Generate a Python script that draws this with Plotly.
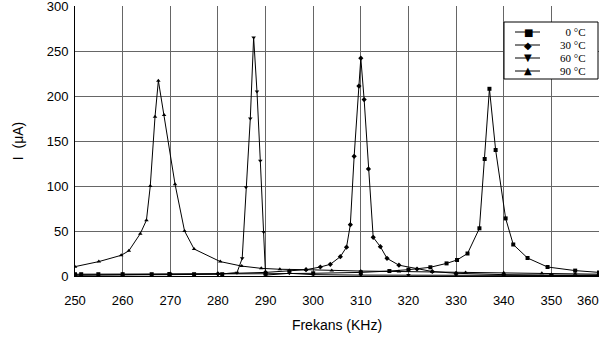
import plotly.graph_objects as go

# ---- data ----
f_0 = [250, 251.3, 254.9, 260, 266.1, 269.8, 275, 280.9, 290, 300, 310, 316, 320, 324.6, 328, 330.2,
       332.4, 334.9, 336.0, 337.0, 338.3, 340.4, 342, 345, 349.2, 355, 360]
i_0 = [2, 2, 2, 2, 2, 2.2, 2, 2, 2.5, 3, 4, 5.5, 7, 9.7, 14, 17.8,
       25, 53, 130, 208, 140, 64, 35, 20, 10, 6, 4]

f_30 = [250, 260, 270, 280, 290, 295, 298.5, 301.5, 303.6, 305.7, 307.0, 307.8, 308.6, 309.6, 310.0,
        310.7, 311.6, 312.6, 314.1, 315.5, 318, 321.8, 325, 330, 340, 350, 360]
i_30 = [1, 1.5, 2, 2.5, 4, 5.5, 7, 10, 13, 21.5, 32, 57, 133, 211, 242,
        196, 119, 43, 32.6, 19.6, 12, 7.8, 5, 3, 1.5, 1, 1]

f_60 = [250, 260, 270, 280, 284.0, 285.1, 285.9, 286.8, 287.5, 288.2, 288.9, 289.6, 290.0, 295.0,
        300, 310, 320, 330, 340, 350, 360]
i_60 = [1, 1, 1.5, 2, 3.7, 19.6, 98.6, 175, 265, 205, 128, 49, 1, 3,
        1.5, 1, 1, 0.8, 0.6, 0.5, 0.5]

f_90 = [250, 255, 259.7, 261.3, 263.7, 265, 265.8, 266.8, 267.5, 268.7, 271.0, 273, 275.0, 280.5,
        285, 289.1, 293, 298.5, 303.9, 310, 318, 325, 332, 340, 348, 355, 360]
i_90 = [10.4, 16, 23, 28, 47, 62, 100, 177, 217, 179, 102, 50, 30, 16,
        11, 8.5, 7.5, 7, 6, 5.5, 5, 4.5, 4, 3.5, 3, 2.5, 2]

series_names = ["\u20070 °C", "30 °C", "60 °C", "90 °C"]
symbols = ["square", "diamond", "triangle-down", "triangle-up"]
legend_glyphs = ["■", "◆", "▼", "▲"]
x_ticks = [250, 260, 270, 280, 290, 300, 310, 320, 330, 340, 350, 360]
x_ticktext = ["250", "260", "270", "280", "290", "300", "310", "320", "330", "340", "350", ""]
last_tick_label = "360"
y_ticks = [0, 50, 100, 150, 200, 250, 300]

W, H = 607, 347
ML, MR, MT, MB = 75, 8, 6, 71
PW, PH = W - ML - MR, H - MT - MB


def px(x):
    return (x - ML) / PW


def py(y):
    return (H - MB - y) / PH


fig = go.Figure()
data = [(f_0, i_0), (f_30, i_30), (f_60, i_60), (f_90, i_90)]
for (xs, ys), nm, sym in zip(data, series_names, symbols):
    fig.add_trace(go.Scatter(x=xs, y=ys, mode="lines+markers", name=nm, showlegend=False,
                             line=dict(color="black", width=1),
                             marker=dict(symbol=sym, size=4, color="black")))

# manual legend (compact, like the reference)
shapes = [dict(type="rect", xref="paper", yref="paper",
               x0=px(504), x1=px(598), y0=py(79), y1=py(22),
               line=dict(color="black", width=1), fillcolor="white", layer="above")]
annotations = []
rows_y = [32, 45, 58, 71]
for ry, nm, g in zip(rows_y, series_names, legend_glyphs):
    shapes.append(dict(type="line", xref="paper", yref="paper",
                       x0=px(515), x1=px(540), y0=py(ry), y1=py(ry),
                       line=dict(color="black", width=1), layer="above"))
    annotations.append(dict(xref="paper", yref="paper", x=px(528), y=py(ry),
                            text=g, showarrow=False, xanchor="center", yanchor="middle",
                            borderpad=0,
                            font=dict(family="DejaVu Sans", size=10, color="black")))
    annotations.append(dict(xref="paper", yref="paper", x=px(587), y=py(ry),
                            text=nm, showarrow=False, xanchor="right", yanchor="middle",
                            borderpad=0,
                            font=dict(family="Liberation Serif, Times New Roman", size=11,
                                      color="black")))

# last x tick label, shifted left so it stays inside the picture (as in the reference)
annotations.append(dict(xref="x", yref="paper", x=x_ticks[-1], y=py(300), xshift=-11,
                        text=last_tick_label, showarrow=False, xanchor="center",
                        yanchor="middle", borderpad=0,
                        font=dict(family="Liberation Sans, Arial", size=13, color="black")))

fig.update_layout(
    width=W, height=H,
    margin=dict(l=ML, r=MR, t=MT, b=MB, autoexpand=False),
    paper_bgcolor="white", plot_bgcolor="white",
    font=dict(family="Liberation Sans, Arial", size=13, color="black"),
    showlegend=False,
    shapes=shapes,
    annotations=annotations,
    xaxis=dict(range=[250, 360], tickvals=x_ticks, ticktext=x_ticktext, automargin=False,
               showgrid=True, gridcolor="#666", gridwidth=1,
               showline=True, linecolor="black", linewidth=1, mirror=False,
               ticks="", zeroline=False, ticklabelstandoff=12, ticklabeloverflow="allow",
               title=dict(text="Frekans (KHz)", font=dict(size=14), standoff=13)),
    yaxis=dict(range=[0, 300], tickvals=y_ticks, automargin=False,
               showgrid=True, gridcolor="#666", gridwidth=1,
               showline=True, linecolor="black", linewidth=1,
               ticks="", zeroline=False, ticklabelstandoff=3, ticklabeloverflow="allow",
               title=dict(text="I  (μA)", font=dict(size=14), standoff=19)),
)

fig.write_html("out.html")
